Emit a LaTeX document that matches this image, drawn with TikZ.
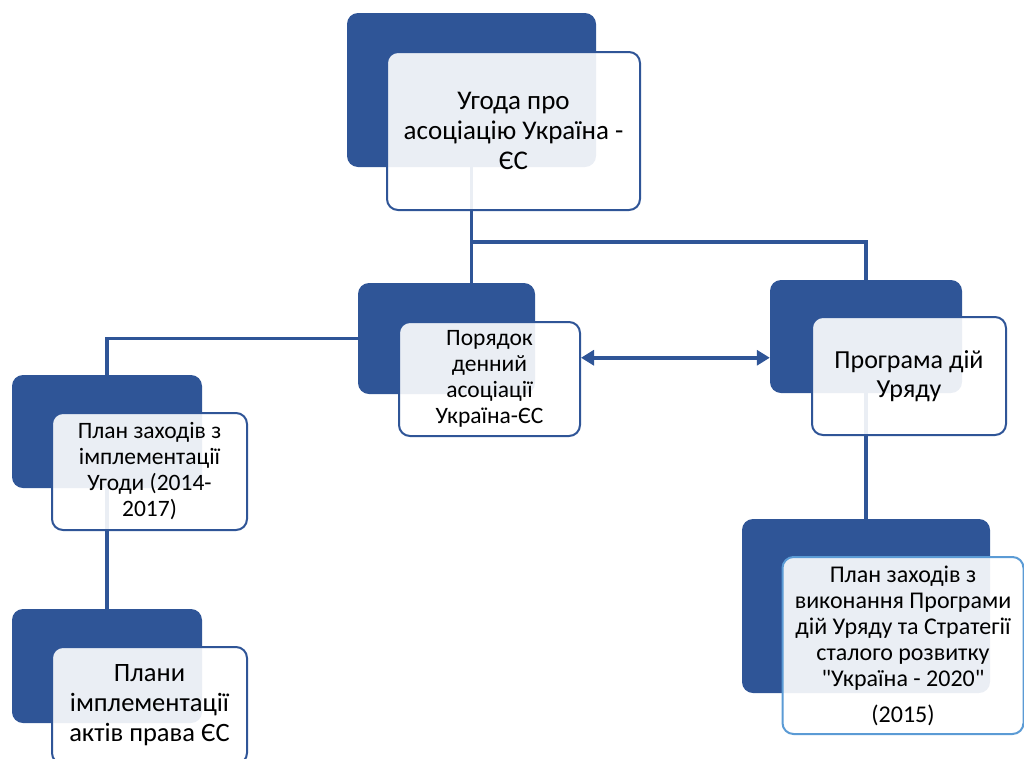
\documentclass[tikz,border=0pt]{standalone}
\usepackage{fontspec}
\setmainfont{Carlito}[Ligatures=TeXOff]
\usepackage{tikz}
\usetikzlibrary{
  	positioning,
  	arrows.meta,
  	calc
  }
\definecolor{navy}{HTML}{2F5597}
\definecolor{sky}{HTML}{5B9BD5}
\tikzstyle{back}=[rounded corners=11pt,fill=navy,draw=none,inner sep=0pt]
\tikzstyle{front}=[rounded corners=11pt,fill=white,fill opacity=0.9,text opacity=1,draw=navy,line width=2pt,inner sep=0pt,align=center]
\tikzstyle{link}=[navy,line width=3.5pt]

\begin{document}
\begin{tikzpicture}[x=1pt,y=-1pt]
\useasboundingbox (0,0) rectangle (1024,758);
\node[back,minimum width=249pt,minimum height=154pt] (ad) at (471.5,90) {};
\node[back,minimum width=177pt,minimum height=111pt] (md) at (446.5,338.5) {};
\node[back,minimum width=192pt,minimum height=113pt] (rd) at (866,336.5) {};
\node[back,minimum width=190pt,minimum height=113pt] (ld) at (107,431.5) {};
\node[back,minimum width=190pt,minimum height=114pt] (bd) at (107,666) {};
\node[back,minimum width=248pt,minimum height=174pt] (pd) at (866,606) {};
\path (ad.south) ++(0,75) coordinate (j);
\draw[link] (ad.south) -- (ad.south |- md.north);
\draw[link] (j) -| (rd.north);
\draw[link] (md.west) -| (ld.north);
\draw[link] (ld.south) -- (bd.north);
\draw[link] (rd.south) -- (pd.north);
\node[front,minimum width=253pt,minimum height=158pt,font=\fontsize{27}{30}\selectfont] (a) at (513.5,131)
  {Угода про\\асоціацію Україна -\\ЄС};
\node[front,minimum width=181pt,minimum height=114pt,font=\fontsize{23.5}{26}\selectfont] (m) at (489.5,379)
  {Порядок\\денний\\асоціації\\Україна-ЄС};
\node[front,minimum width=194pt,minimum height=118pt,font=\fontsize{26}{29}\selectfont] (r) at (909,376)
  {Програма дій\\Уряду};
\node[front,minimum width=195pt,minimum height=117pt,font=\fontsize{23.5}{26}\selectfont] (l) at (149.5,471.5)
  {План заходів з\\імплементації\\Угоди (2014-\\2017)};
\node[front,minimum width=195pt,minimum height=117pt,font=\fontsize{26.5}{30}\selectfont] (b) at (149.5,705.5)
  {Плани\\імплементації\\актів права ЄС};
\node[front,draw=sky,minimum width=241pt,minimum height=177pt,font=\fontsize{24}{26}\selectfont] (p) at (903,645.5)
  {План заходів з\\виконання Програми\\дій Уряду та Стратегії\\сталого розвитку\\"Україна - 2020"\\[10pt](2015)};
\path ($(m.east)!.5!(rd.west)$) coordinate (mid);
\draw[link,{Triangle[length=13pt,width=15pt]}-{Triangle[length=13pt,width=15pt]}] (m.east |- mid) -- (rd.west |- mid);
\end{tikzpicture}
\end{document}
